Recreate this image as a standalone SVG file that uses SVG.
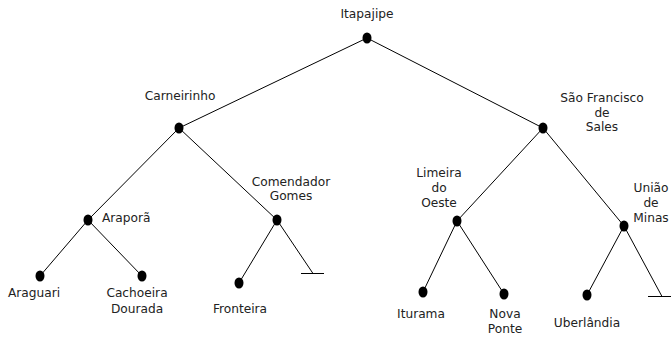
<svg xmlns="http://www.w3.org/2000/svg" width="671" height="338" viewBox="0 0 671 338">
<style>
.e{stroke:#000;stroke-width:1;fill:none}
.d{fill:#000}
text{font-family:"DejaVu Sans","Liberation Sans",sans-serif;font-size:12.2px;fill:#222;text-anchor:middle}
.s{text-anchor:start}
</style>
<rect width="671" height="338" fill="#fff"/>
<g id="connectors">
<line class="e" x1="367" y1="38" x2="179" y2="128"/>
<line class="e" x1="367" y1="38" x2="543" y2="128"/>
<line class="e" x1="179" y1="128" x2="88" y2="220"/>
<line class="e" x1="179" y1="128" x2="277" y2="220"/>
<line class="e" x1="88" y1="220" x2="40" y2="276"/>
<line class="e" x1="88" y1="220" x2="142" y2="276"/>
<line class="e" x1="277" y1="220" x2="239" y2="283"/>
<line class="e" x1="277" y1="220" x2="313" y2="273.5"/>
<line class="e" x1="301" y1="273.5" x2="324" y2="273.5"/>
<line class="e" x1="543" y1="128" x2="457" y2="221"/>
<line class="e" x1="543" y1="128" x2="624" y2="226"/>
<line class="e" x1="457" y1="221" x2="423" y2="292"/>
<line class="e" x1="457" y1="221" x2="504" y2="294"/>
<line class="e" x1="624" y1="226" x2="587" y2="295"/>
<line class="e" x1="624" y1="226" x2="662" y2="296.5"/>
<line class="e" x1="648" y1="296.5" x2="676" y2="296.5"/>
</g>
<g id="itapajipe"><ellipse class="d" cx="367" cy="38" rx="4.5" ry="5.5"/><text x="367" y="18">Itapajipe</text></g>
<g id="carneirinho"><ellipse class="d" cx="179" cy="128" rx="4.5" ry="5.5"/><text x="180" y="100">Carneirinho</text></g>
<g id="sao-francisco"><ellipse class="d" cx="543" cy="128" rx="4.5" ry="5.5"/><text x="602" y="102">São Francisco</text><text x="602" y="117">de</text><text x="602" y="131">Sales</text></g>
<g id="arapora"><ellipse class="d" cx="88" cy="220" rx="4.5" ry="5.5"/><text class="s" x="102" y="222">Araporã</text></g>
<g id="comendador"><ellipse class="d" cx="277" cy="220" rx="4.5" ry="5.5"/><text x="291" y="186">Comendador</text><text x="291" y="200">Gomes</text></g>
<g id="limeira"><ellipse class="d" cx="457" cy="221" rx="4.5" ry="5.5"/><text x="439" y="177">Limeira</text><text x="439" y="192">do</text><text x="439" y="207">Oeste</text></g>
<g id="uniao"><ellipse class="d" cx="624" cy="226" rx="4.5" ry="5.5"/><text x="651" y="192">União</text><text x="651" y="207">de</text><text x="651" y="222">Minas</text></g>
<g id="araguari"><ellipse class="d" cx="40" cy="276" rx="4.5" ry="5.5"/><text x="34" y="297">Araguari</text></g>
<g id="cachoeira"><ellipse class="d" cx="142" cy="276" rx="4.5" ry="5.5"/><text x="137" y="297">Cachoeira</text><text x="137" y="313">Dourada</text></g>
<g id="fronteira"><ellipse class="d" cx="239" cy="283" rx="4.5" ry="5.5"/><text x="240" y="313">Fronteira</text></g>
<g id="iturama"><ellipse class="d" cx="423" cy="292" rx="4.5" ry="5.5"/><text x="421" y="318">Iturama</text></g>
<g id="nova-ponte"><ellipse class="d" cx="504" cy="294" rx="4.5" ry="5.5"/><text x="505" y="318">Nova</text><text x="505" y="333">Ponte</text></g>
<g id="uberlandia"><ellipse class="d" cx="587" cy="295" rx="4.5" ry="5.5"/><text x="587" y="327">Uberlândia</text></g>
</svg>
